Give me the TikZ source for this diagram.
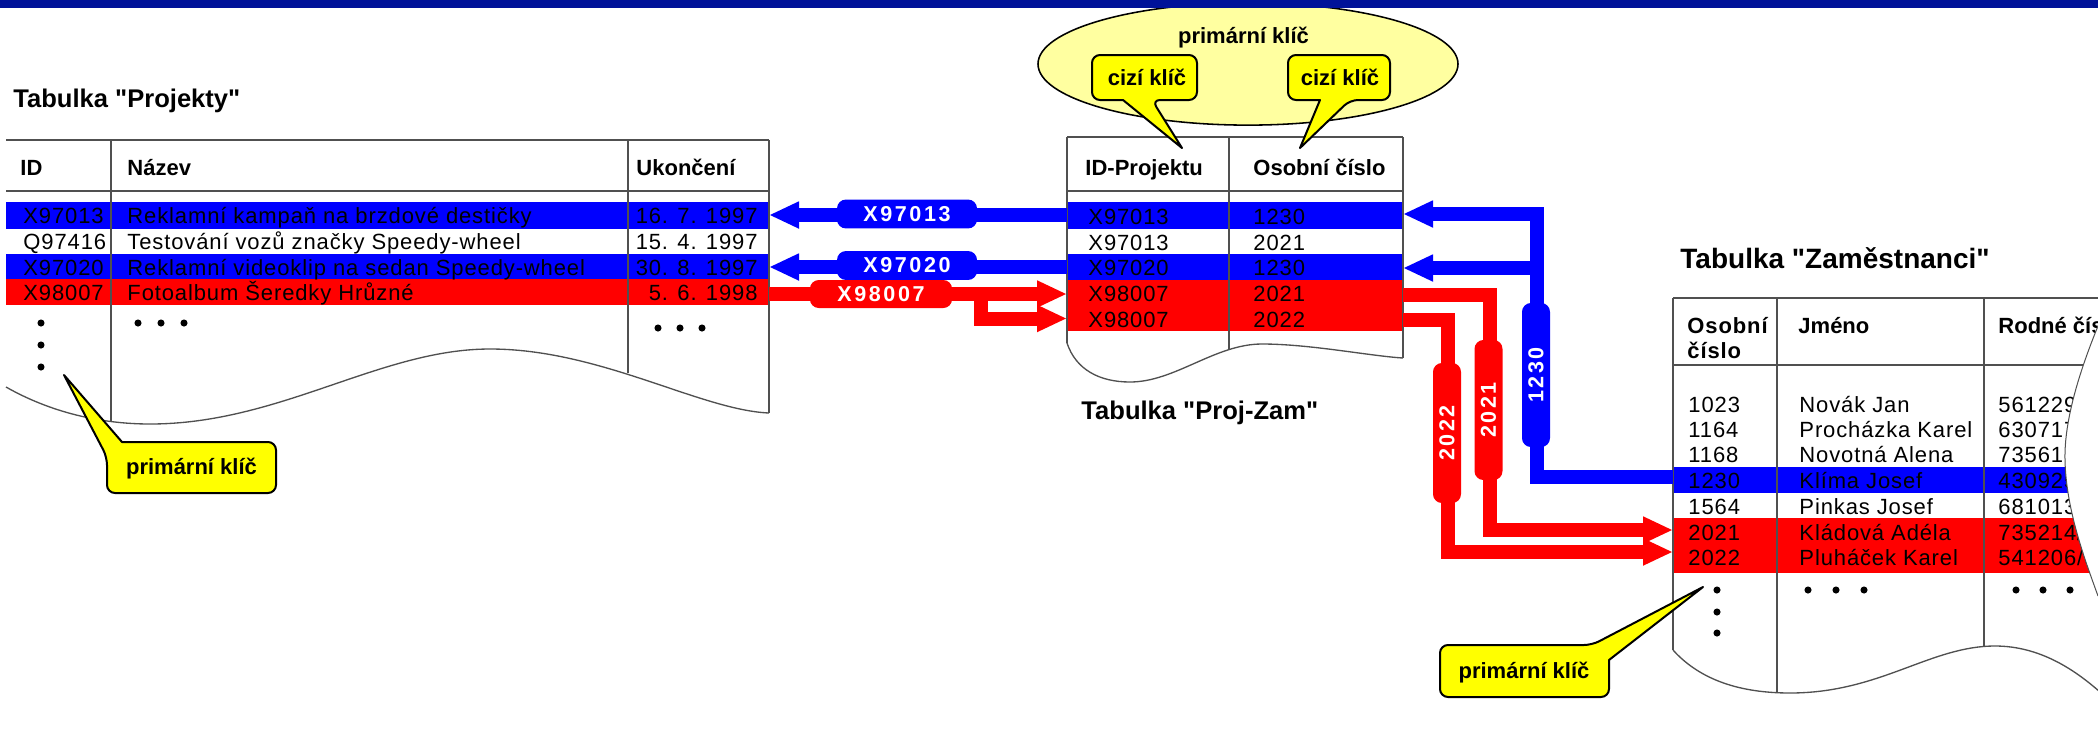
\documentclass[tikz,border=0pt]{standalone}
\usepackage{fontspec}
\setmainfont{Liberation Sans}
\newfontfamily\plainfont{Liberation Sans}
\newfontfamily\cellfont[LetterSpace=4]{Liberation Sans}
\newfontfamily\tagfont[LetterSpace=12]{Liberation Sans}
\usetikzlibrary{arrows.meta}

\definecolor{barblue}{RGB}{0,18,153}
\definecolor{rowblue}{RGB}{0,0,255}
\definecolor{rowred}{RGB}{255,0,0}
\definecolor{noteyellow}{RGB}{255,255,0}
\definecolor{ovalyellow}{RGB}{255,255,160}
\definecolor{ruleclr}{RGB}{80,80,80}

\begin{document}
\begin{tikzpicture}[x=0.45pt, y=-0.45pt,
  celltext/.style={anchor=base west, inner sep=0pt, font=\cellfont\fontsize{9.9pt}{11pt}\selectfont},
  cellright/.style={celltext, anchor=base east},
  colhead/.style={anchor=base west, inner sep=0pt, font=\fontsize{9.9pt}{11pt}\selectfont\bfseries},
  tabtitle/.style={anchor=base west, inner sep=0pt, font=\plainfont\fontsize{11.5pt}{13pt}\selectfont\bfseries},
  notetext/.style={anchor=base, inner sep=0pt, font=\fontsize{9.9pt}{11pt}\selectfont\bfseries},
  tline/.style={draw=ruleclr, line width=0.6pt},
  heavyline/.style={draw=ruleclr, line width=1pt},
  keyarrow/.style={line width=6.3pt, -{Triangle[length=13.5pt,width=11.25pt]}},
  bluearrow/.style={keyarrow, draw=rowblue},
  redarrow/.style={keyarrow, draw=rowred},
  keytag/.style={rounded corners=4pt, inner sep=0pt, text=white, minimum width=63pt,
    minimum height=13pt, font=\tagfont\fontsize{9.7pt}{11pt}\selectfont\bfseries},
  vkeytag/.style={keytag, rotate=90, minimum height=12.6pt},
  callout/.style={fill=noteyellow, draw=black, line width=0.9pt, line join=round},
  bullet/.style={fill=black}
]
\useasboundingbox (0,0) rectangle (2098,732);
\clip (0,0) rectangle (2098,732);

% ---------- oval with the composite primary key ----------
\draw[fill=ovalyellow, line width=0.7pt] (1248,64) ellipse [x radius=94.5pt, y radius=27.5pt];
\node[notetext] (pk-oval) at (1243.5,43) {primární klíč};

% ---------- title bar ----------
\fill[barblue] (0,0) rectangle (2098,7.5);

% ---------- table Projekty ----------
\fill[rowblue] (6,202) rectangle (769,229);
\fill[rowblue] (6,254) rectangle (769,279);
\fill[rowred]  (6,279) rectangle (769,305);
\draw[heavyline] (6,140) -- (769,140);
\draw[heavyline] (6,191) -- (769,191);
\draw[tline] (111,140) -- (111,421);
\draw[tline] (628,140) -- (628,373);
\draw[tline] (769,140) -- (769,413);
\draw[tline] (6,387) .. controls (50,412) and (100,424) .. (150,424)
  .. controls (280,424) and (380,349) .. (490,349)
  .. controls (600,349) and (700,410) .. (769,413);

\node[tabtitle] (pr-title) at (13,107) {Tabulka "Projekty"};
\node[colhead] (pr-h1) at (20,175) {ID};
\node[colhead] (pr-h2) at (127,175) {Název};
\node[colhead] (pr-h3) at (636,175) {Ukončení};

\node[celltext]  (pr-a1) at (23,223.5) {X97013};
\node[celltext]  (pr-b1) at (127,223.5) {Reklamní kampaň na brzdové destičky};
\node[cellright] (pr-c1) at (758,223.5) {16. 7. 1997};
\node[celltext]  (pr-a2) at (23,249.5) {Q97416};
\node[celltext]  (pr-b2) at (127,249.5) {Testování vozů značky Speedy-wheel};
\node[cellright] (pr-c2) at (758,249.5) {15. 4. 1997};
\node[celltext]  (pr-a3) at (23,275) {X97020};
\node[celltext]  (pr-b3) at (127,275) {Reklamní videoklip na sedan Speedy-wheel};
\node[cellright] (pr-c3) at (758,275) {30. 8. 1997};
\node[celltext]  (pr-a4) at (23,300.5) {X98007};
\node[celltext]  (pr-b4) at (127,300.5) {Fotoalbum Šeredky Hrůzné};
\node[cellright] (pr-c4) at (758,300.5) {5. 6. 1998};

\foreach \p in {(41,323),(41,345),(41,367),(138,323),(161,323),(184,323),(658,328),(680,328),(702,328)}
  \fill[bullet] \p circle [radius=1.6pt];

% ---------- table Proj-Zam ----------
\fill[rowblue] (1067,202) rectangle (1403,229);
\fill[rowblue] (1067,254) rectangle (1403,280);
\fill[rowred]  (1067,280) rectangle (1403,331);
\draw[heavyline] (1067,137) -- (1403,137);
\draw[heavyline] (1067,191) -- (1403,191);
\draw[tline] (1067,137) -- (1067,343);
\draw[tline] (1403,137) -- (1403,358);
\draw[tline] (1229,137) -- (1229,349);
\draw[tline] (1067,343) .. controls (1076,370) and (1100,382) .. (1130,382)
  .. controls (1175,382) and (1215,344) .. (1262,344)
  .. controls (1310,344) and (1370,356) .. (1403,358);

\node[tabtitle] (pz-title) at (1081,419) {Tabulka "Proj-Zam"};
\node[colhead] (pz-h1) at (1085,175) {ID-Projektu};
\node[colhead] (pz-h2) at (1253,175) {Osobní číslo};

\node[celltext] (pz-a1) at (1088,224.5) {X97013};
\node[celltext] (pz-b1) at (1253,224.5) {1230};
\node[celltext] (pz-a2) at (1088,250) {X97013};
\node[celltext] (pz-b2) at (1253,250) {2021};
\node[celltext] (pz-a3) at (1088,275.5) {X97020};
\node[celltext] (pz-b3) at (1253,275.5) {1230};
\node[celltext] (pz-a4) at (1088,301.5) {X98007};
\node[celltext] (pz-b4) at (1253,301.5) {2021};
\node[celltext] (pz-a5) at (1088,327) {X98007};
\node[celltext] (pz-b5) at (1253,327) {2022};

% ---------- table Zaměstnanci ----------
\fill[rowblue] (1673,467) rectangle (2098,493);
\fill[rowred]  (1673,518) rectangle (2098,573);
\draw[heavyline] (1673,298) -- (2098,298);
\draw[heavyline] (1673,365) -- (2098,365);
\draw[tline] (1673,298) -- (1673,650);
\draw[tline] (1777,298) -- (1777,692);
\draw[tline] (1984,298) -- (1984,647);
\draw[tline] (1673,650) .. controls (1700,680) and (1740,693) .. (1790,693)
  .. controls (1880,693) and (1930,646) .. (1995,646)
  .. controls (2040,646) and (2075,670) .. (2100,692);

\node[tabtitle, font=\plainfont\fontsize{12.6pt}{14pt}\selectfont\bfseries] (zm-title) at (1680,268) {Tabulka "Zaměstnanci"};
\node[colhead, font=\cellfont\fontsize{9.9pt}{11pt}\selectfont\bfseries] (zm-h1a) at (1687,333) {Osobní};
\node[colhead, font=\cellfont\fontsize{9.9pt}{11pt}\selectfont\bfseries] (zm-h1b) at (1687,358) {číslo};
\node[colhead] (zm-h2) at (1798,333) {Jméno};
\node[colhead] (zm-h3) at (1998,333) {Rodné čís};

\node[celltext] (zm-a1) at (1688,412) {1023};
\node[celltext] (zm-b1) at (1799,412) {Novák Jan};
\node[celltext] (zm-c1) at (1998,412) {561229/};
\node[celltext] (zm-a2) at (1688,437) {1164};
\node[celltext] (zm-b2) at (1799,437) {Procházka Karel};
\node[celltext] (zm-c2) at (1998,437) {630717/};
\node[celltext] (zm-a3) at (1688,462.5) {1168};
\node[celltext] (zm-b3) at (1799,462.5) {Novotná Alena};
\node[celltext] (zm-c3) at (1998,462.5) {735618/};
\node[celltext] (zm-a4) at (1688,488) {1230};
\node[celltext] (zm-b4) at (1799,488) {Klíma Josef};
\node[celltext] (zm-c4) at (1998,488) {430925/};
\node[celltext] (zm-a5) at (1688,514) {1564};
\node[celltext] (zm-b5) at (1799,514) {Pinkas Josef};
\node[celltext] (zm-c5) at (1998,514) {681013/};
\node[celltext] (zm-a6) at (1688,540) {2021};
\node[celltext] (zm-b6) at (1799,540) {Kládová Adéla};
\node[celltext] (zm-c6) at (1998,540) {735214/0};
\node[celltext] (zm-a7) at (1688,565) {2022};
\node[celltext] (zm-b7) at (1799,565) {Pluháček Karel};
\node[celltext] (zm-c7) at (1998,565) {541206/0};

\foreach \p in {(1717,590),(1717,612),(1717,633),(1808,590),(1836,590),(1864,590),(2016,590),(2043,590),(2070,590)}
  \fill[bullet] \p circle [radius=1.6pt];

% torn right edge of the Zaměstnanci sheet
\fill[white] (2098,326) .. controls (2080,370) and (2064,420) .. (2065,460)
  .. controls (2066,510) and (2085,560) .. (2098,596) -- (2102,596) -- (2102,326) -- cycle;
\draw[tline, line width=0.45pt] (2098,326) .. controls (2080,370) and (2064,420) .. (2065,460)
  .. controls (2066,510) and (2085,560) .. (2098,596);

% ---------- connection points ----------
\coordinate (pr-r1) at (769,215);
\coordinate (pr-r3) at (769,267);
\coordinate (pr-r4) at (769,294);
\coordinate (pz-w1) at (1067,215);
\coordinate (pz-w3) at (1067,267);
\coordinate (pz-w4) at (1067,294);
\coordinate (pz-w5) at (1067,318.5);
\coordinate (red-fork) at (981,294);
\coordinate (pz-e1) at (1403,214);
\coordinate (pz-e3) at (1403,268);
\coordinate (pz-e4) at (1403,294.5);
\coordinate (pz-e5) at (1403,319.5);
\coordinate (blue-top) at (1537,214);
\coordinate (blue-mid) at (1537,268);
\coordinate (blue-bot) at (1537,477);
\coordinate (red1-top) at (1490,294.5);
\coordinate (red1-bot) at (1490,530);
\coordinate (red2-top) at (1447.5,319.5);
\coordinate (red2-bot) at (1447.5,552);
\coordinate (zm-1230) at (1673,477);
\coordinate (zm-2021) at (1673,530);
\coordinate (zm-2022) at (1673,552);

% ---------- key connectors ----------
\draw[bluearrow] (pz-w1) -- (pr-r1);
\draw[bluearrow] (pz-w3) -- (pr-r3);
\draw[redarrow] (pr-r4) -- (pz-w4);
\draw[redarrow] (red-fork) |- (pz-w5);
\draw[bluearrow] (zm-1230) -- (blue-bot) -- (blue-top) -- (pz-e1);
\draw[bluearrow] (blue-mid) -- (pz-e3);
\draw[redarrow] (pz-e4) -- (red1-top) -- (red1-bot) -- (zm-2021);
\draw[redarrow] (pz-e5) -- (red2-top) -- (red2-bot) -- (zm-2022);

\node[keytag, fill=rowblue] (tag-x97013) at (907,214) {X97013};
\node[keytag, fill=rowblue] (tag-x97020) at (907,265.5) {X97020};
\node[keytag, fill=rowred, minimum width=64pt, minimum height=12.6pt] (tag-x98007) at (881,294) {X98007};
\node[vkeytag, fill=rowblue, minimum width=64.8pt] (tag-1230) at (1536,375) {1230};
\node[vkeytag, fill=rowred] (tag-2021) at (1488.5,410) {2021};
\node[vkeytag, fill=rowred] (tag-2022) at (1447,433) {2022};

% ---------- callouts ----------
\draw[callout, rounded corners=3.6pt] (1092,55) -- (1197,55) -- (1197,100) -- (1152,100)
  [sharp corners] -- (1182,148) -- (1123,100) [rounded corners=3.6pt] -- (1092,100) -- cycle;
\node[notetext] (fk-left) at (1147,85) {cizí klíč};

\draw[callout, rounded corners=3.6pt] (1288,55) -- (1390,55) -- (1390,100) -- (1350,100)
  [sharp corners] -- (1300,148) -- (1320,100) [rounded corners=3.6pt] -- (1288,100) -- cycle;
\node[notetext] (fk-right) at (1340,85) {cizí klíč};

\draw[callout, rounded corners=3.6pt] (190,493) -- (107,493) -- (107,457)
  [sharp corners] -- (64,375) -- (122,442) [rounded corners=3.6pt] -- (276,442) -- (276,493) -- cycle;
\node[notetext] (pk-left) at (191.5,474) {primární klíč};

\draw[callout, rounded corners=3.6pt] (1520,697) -- (1440,697) -- (1440,645) -- (1592,645)
  [sharp corners] -- (1703,587) -- (1609,660) [rounded corners=3.6pt] -- (1609,697) -- cycle;
\node[notetext] (pk-right) at (1524,678) {primární klíč};
\end{tikzpicture}
\end{document}
